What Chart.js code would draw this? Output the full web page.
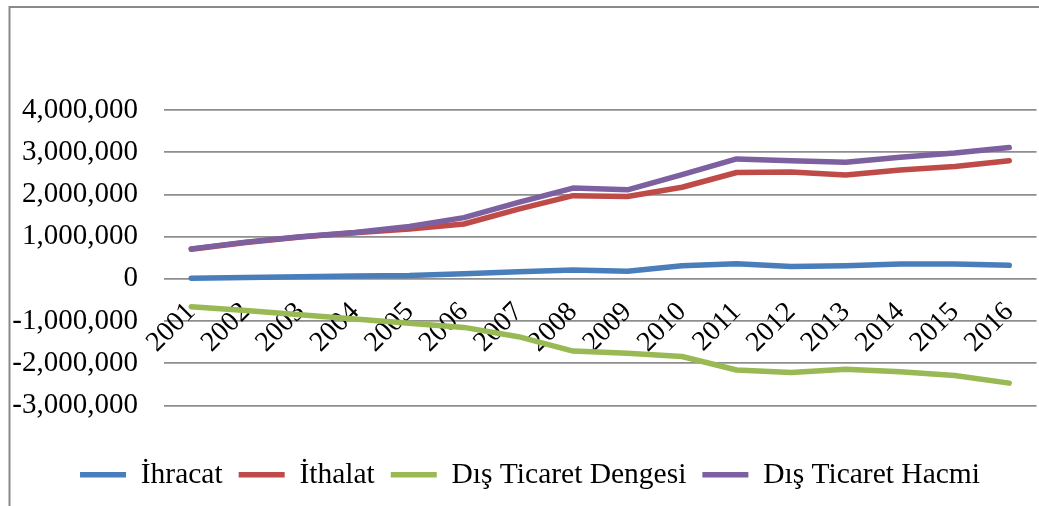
<!DOCTYPE html>
<html>
<head>
<meta charset="utf-8">
<script src="https://cdn.jsdelivr.net/npm/chart.js@4/dist/chart.umd.min.js"></script>
<style>
  html, body { margin: 0; padding: 0; background: #fff; overflow: hidden; }
  #wrap { position: absolute; left: 0; top: 0; width: 1039px; height: 506px; overflow: hidden; }
</style>
</head>
<body>
<div id="wrap"><canvas id="c" width="1050" height="506"></canvas></div>
<script>
const years = ['2001','2002','2003','2004','2005','2006','2007','2008','2009','2010','2011','2012','2013','2014','2015','2016'];
const ihracat = [15000, 30000, 50000, 70000, 80000, 120000, 170000, 210000, 180000, 310000, 355000, 290000, 310000, 350000, 350000, 320000];
const ithalat = [700000, 860000, 990000, 1090000, 1180000, 1300000, 1650000, 1970000, 1950000, 2170000, 2520000, 2530000, 2460000, 2580000, 2660000, 2800000];
const denge = [-660000, -750000, -850000, -950000, -1050000, -1150000, -1370000, -1710000, -1760000, -1840000, -2160000, -2220000, -2140000, -2200000, -2290000, -2470000];
const hacim = [710000, 870000, 1000000, 1100000, 1240000, 1450000, 1810000, 2150000, 2110000, 2470000, 2840000, 2800000, 2760000, 2880000, 2980000, 3110000];
const yTicks = [-3000000, -2000000, -1000000, 0, 1000000, 2000000, 3000000, 4000000];

const FONT = "'Liberation Serif', 'Times New Roman', serif";

const frame = {
  id: 'frame',
  afterDraw(chart) {
    const ctx = chart.ctx;
    ctx.save();
    ctx.strokeStyle = '#898989';
    ctx.lineWidth = 2;
    ctx.beginPath();
    ctx.moveTo(9.5, 506);
    ctx.lineTo(9.5, 7);
    ctx.lineTo(1050, 7);
    ctx.stroke();
    ctx.restore();
  }
};

function ds(label, data, color, order) {
  return {
    label, data, borderColor: color, backgroundColor: color,
    borderWidth: 5.5, pointRadius: 0, tension: 0, order,
    borderCapStyle: 'round', borderJoinStyle: 'round'
  };
}

new Chart(document.getElementById('c'), {
  type: 'line',
  data: {
    labels: years,
    datasets: [
      ds('İhracat', ihracat, '#4A7EBB', 4),
      ds('İthalat', ithalat, '#BE4B48', 3),
      ds('Dış Ticaret Dengesi', denge, '#98B954', 2),
      ds('Dış Ticaret Hacmi', hacim, '#7D60A0', 1)
    ]
  },
  options: {
    responsive: false,
    animation: false,
    events: [],
    layout: { padding: { top: 110, left: 10, right: 0, bottom: 6.5 } },
    plugins: {
      tooltip: { enabled: false },
      legend: {
        position: 'bottom',
        title: { display: true, text: ' ', font: { size: 10 }, padding: { top: 0, bottom: 26.5 } },
        labels: {
          sort: (a, b) => a.datasetIndex - b.datasetIndex,
          usePointStyle: true,
          pointStyle: 'line',
          pointStyleWidth: 46,
          boxHeight: 29,
          color: '#000',
          padding: 16,
          font: { family: FONT, size: 29.5 }
        }
      }
    },
    scales: {
      x: {
        position: { y: 0 },
        offset: true,
        grid: { display: false, drawTicks: false },
        border: { display: false },
        ticks: {
          color: '#000',
          font: { family: FONT, size: 28 },
          minRotation: 45, maxRotation: 45,
          padding: 17,
          autoSkip: false
        }
      },
      y: {
        min: -3000000, max: 4000000,
        afterBuildTicks(scale) { scale.ticks = yTicks.map(v => ({ value: v })); },
        afterFit(scale) { scale.width = 154; },
        grid: { color: '#8e8e8e', lineWidth: 1.8, drawTicks: false },
        border: { display: false },
        ticks: {
          color: '#000',
          font: { family: FONT, size: 29 },
          padding: 26,
          callback: v => v.toLocaleString('en-US')
        }
      }
    }
  },
  plugins: [frame]
});
</script>
</body>
</html>
